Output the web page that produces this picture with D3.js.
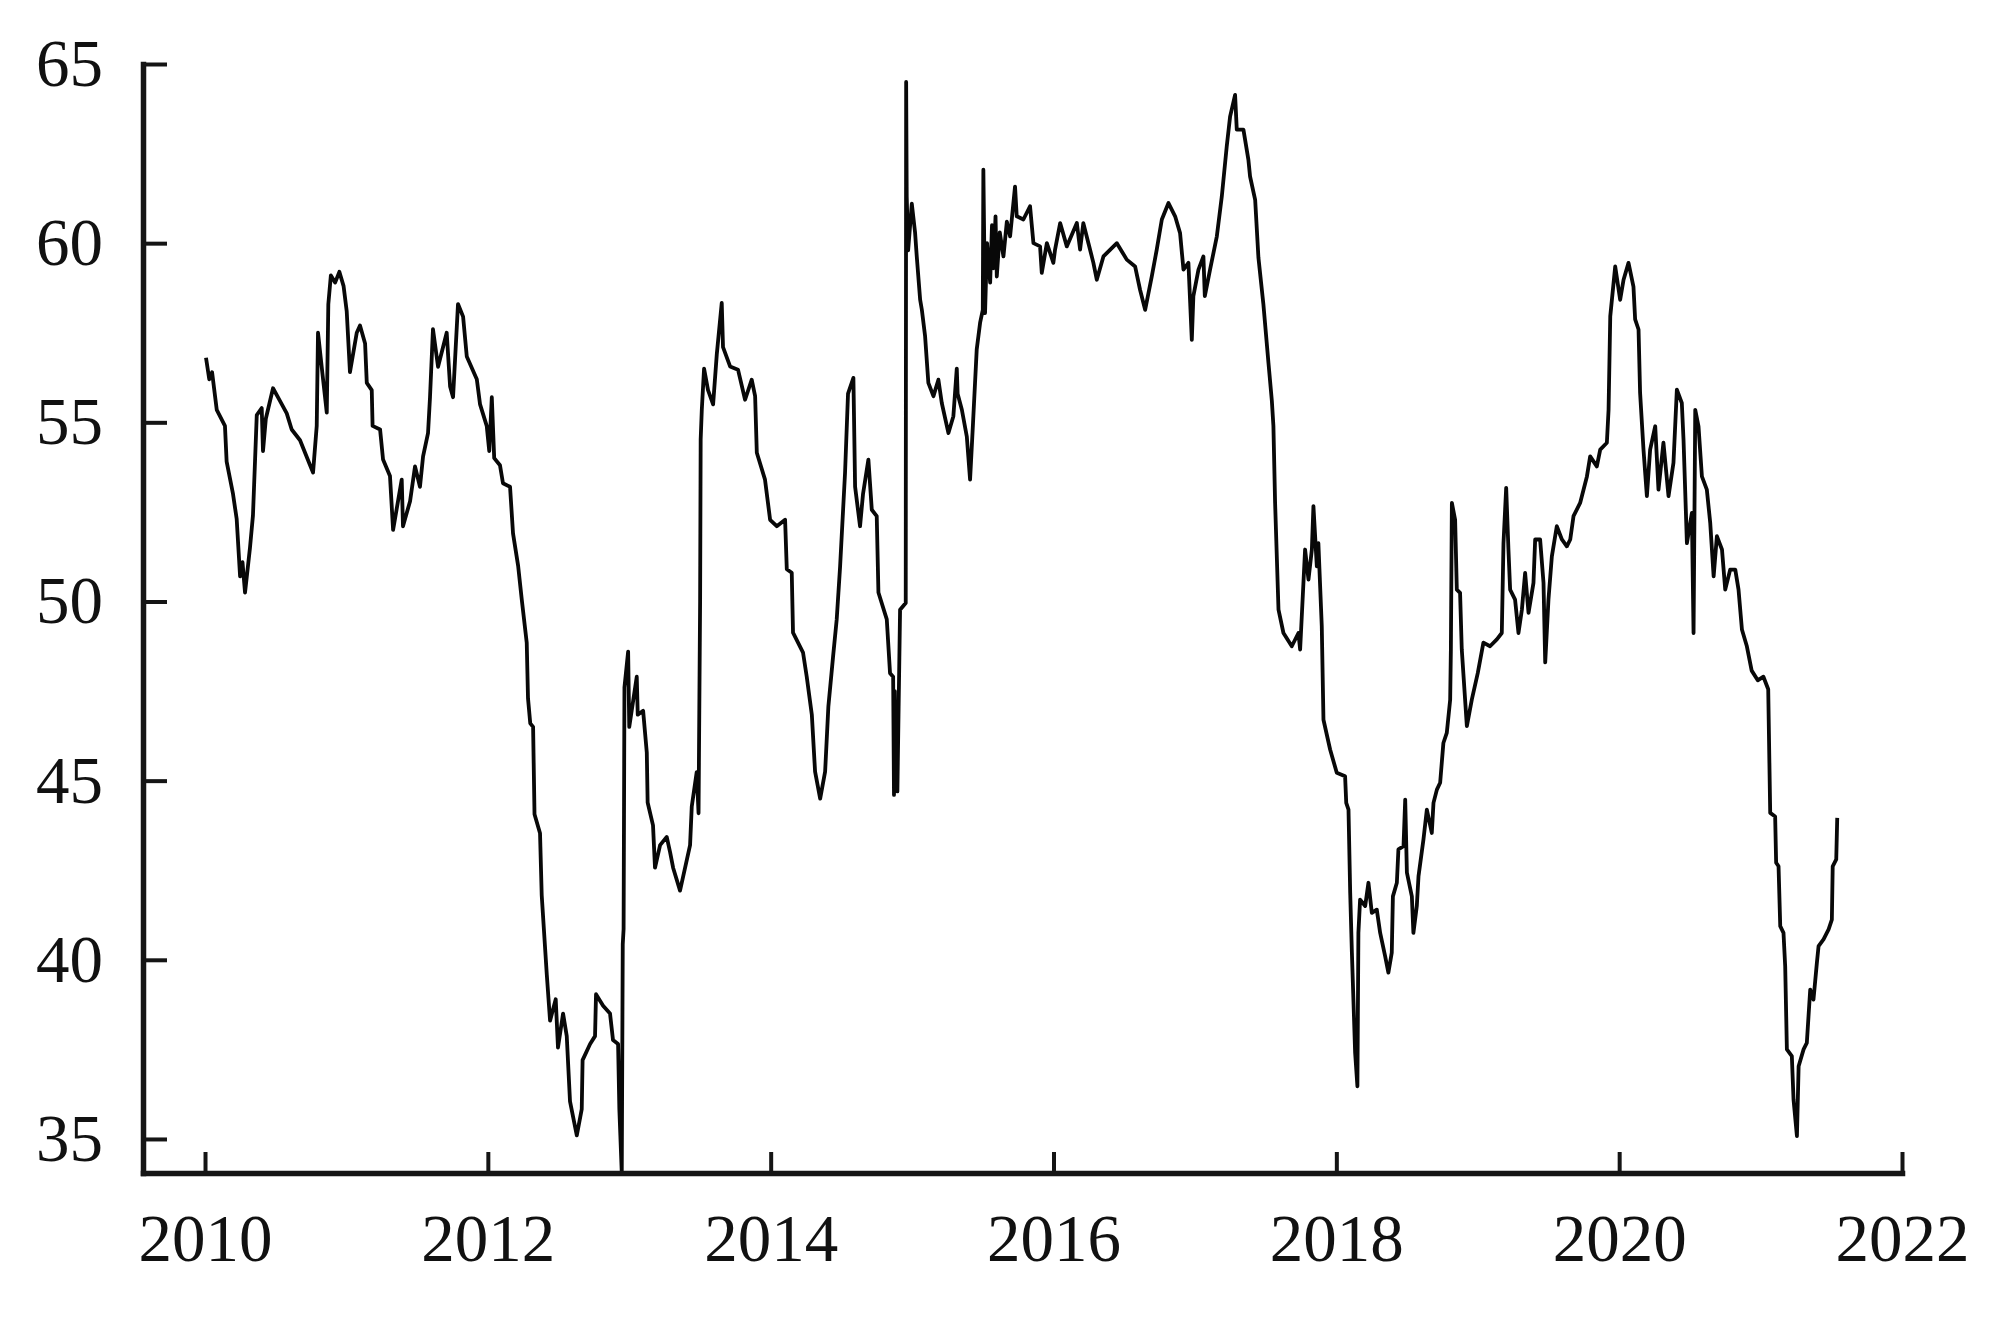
<!DOCTYPE html>
<html>
<head>
<meta charset="utf-8">
<script src="https://cdn.jsdelivr.net/npm/d3@7"></script>
<style>
  html, body { margin: 0; padding: 0; background: #fff; }
  .axis text { font-family: "Liberation Serif", "DejaVu Serif", serif; font-size: 67px; fill: #111; }
</style>
</head>
<body>
<div class="vis-line"></div>
<script>
// decimal years
const years = [
  2010.007, 2010.03, 2010.05, 2010.083, 2010.141, 2010.153, 2010.198, 2010.224, 2010.248, 2010.265,
  2010.283, 2010.318, 2010.339, 2010.366, 2010.401, 2010.41, 2010.43, 2010.481, 2010.53, 2010.578,
  2010.613, 2010.672, 2010.743, 2010.764, 2010.79, 2010.799, 2010.825, 2010.861, 2010.872, 2010.89,
  2010.92, 2010.95, 2010.98, 2011.002, 2011.025, 2011.073, 2011.096, 2011.132, 2011.144, 2011.179,
  2011.185, 2011.238, 2011.259, 2011.308, 2011.33, 2011.391, 2011.4, 2011.45, 2011.485, 2011.52,
  2011.542, 2011.577, 2011.591, 2011.612, 2011.648, 2011.709, 2011.733, 2011.754, 2011.789, 2011.825,
  2011.851, 2011.922, 2011.945, 2011.992, 2012.01, 2012.028, 2012.045, 2012.086, 2012.107, 2012.157,
  2012.178, 2012.214, 2012.24, 2012.275, 2012.284, 2012.3, 2012.32, 2012.33, 2012.369, 2012.381,
  2012.417, 2012.44, 2012.48, 2012.496, 2012.532, 2012.558, 2012.581, 2012.629, 2012.664, 2012.67,
  2012.723, 2012.758, 2012.765, 2012.815, 2012.864, 2012.885, 2012.921, 2012.93, 2012.947, 2012.954,
  2012.96, 2012.966, 2012.992, 2013.0, 2013.053, 2013.06, 2013.098, 2013.124, 2013.13, 2013.168,
  2013.182, 2013.218, 2013.265, 2013.289, 2013.31, 2013.359, 2013.395, 2013.43, 2013.442, 2013.477,
  2013.49, 2013.501, 2013.505, 2013.513, 2013.529, 2013.557, 2013.593, 2013.619, 2013.654, 2013.663,
  2013.713, 2013.769, 2013.819, 2013.866, 2013.89, 2013.902, 2013.96, 2013.996, 2014.043, 2014.102,
  2014.114, 2014.149, 2014.158, 2014.229, 2014.255, 2014.291, 2014.314, 2014.35, 2014.385, 2014.408,
  2014.441, 2014.467, 2014.491, 2014.526, 2014.547, 2014.585, 2014.597, 2014.632, 2014.653, 2014.691,
  2014.715, 2014.75, 2014.762, 2014.821, 2014.844, 2014.866, 2014.872, 2014.878, 2014.884, 2014.89,
  2014.896, 2014.915, 2014.955, 2014.958, 2014.962, 2014.972, 2014.998, 2015.021, 2015.033, 2015.057,
  2015.069, 2015.092, 2015.115, 2015.151, 2015.186, 2015.21, 2015.257, 2015.292, 2015.316, 2015.322,
  2015.352, 2015.387, 2015.41, 2015.431, 2015.457, 2015.481, 2015.5, 2015.504, 2015.516, 2015.53,
  2015.552, 2015.565, 2015.575, 2015.59, 2015.599, 2015.62, 2015.646, 2015.67, 2015.693, 2015.728,
  2015.74, 2015.787, 2015.834, 2015.858, 2015.905, 2015.917, 2015.953, 2015.999, 2016.011, 2016.047,
  2016.094, 2016.165, 2016.188, 2016.211, 2016.247, 2016.282, 2016.306, 2016.353, 2016.448, 2016.518,
  2016.577, 2016.612, 2016.648, 2016.695, 2016.73, 2016.766, 2016.813, 2016.86, 2016.895, 2016.919,
  2016.954, 2016.978, 2016.989, 2017.025, 2017.06, 2017.07, 2017.107, 2017.155, 2017.19, 2017.225,
  2017.249, 2017.284, 2017.296, 2017.343, 2017.378, 2017.39, 2017.426, 2017.449, 2017.484, 2017.52,
  2017.544, 2017.555, 2017.567, 2017.591, 2017.626, 2017.685, 2017.732, 2017.744, 2017.779, 2017.803,
  2017.827, 2017.838, 2017.862, 2017.873, 2017.897, 2017.909, 2017.956, 2018.003, 2018.062, 2018.07,
  2018.086, 2018.098, 2018.11, 2018.133, 2018.149, 2018.156, 2018.168, 2018.204, 2018.227, 2018.251,
  2018.286, 2018.31, 2018.345, 2018.368, 2018.392, 2018.4, 2018.428, 2018.439, 2018.475, 2018.487,
  2018.499, 2018.534, 2018.545, 2018.569, 2018.581, 2018.616, 2018.64, 2018.675, 2018.687, 2018.711,
  2018.734, 2018.757, 2018.781, 2018.805, 2018.81, 2018.817, 2018.84, 2018.852, 2018.875, 2018.887,
  2018.923, 2018.958, 2019.0, 2019.04, 2019.087, 2019.135, 2019.17, 2019.182, 2019.201, 2019.217,
  2019.229, 2019.264, 2019.288, 2019.312, 2019.335, 2019.359, 2019.394, 2019.406, 2019.441, 2019.465,
  2019.477, 2019.5, 2019.524, 2019.559, 2019.595, 2019.63, 2019.654, 2019.677, 2019.724, 2019.772,
  2019.795, 2019.842, 2019.866, 2019.913, 2019.925, 2019.937, 2019.972, 2020.007, 2020.031, 2020.066,
  2020.101, 2020.113, 2020.137, 2020.148, 2020.172, 2020.196, 2020.219, 2020.255, 2020.278, 2020.313,
  2020.349, 2020.384, 2020.408, 2020.443, 2020.455, 2020.479, 2020.514, 2020.526, 2020.538, 2020.561,
  2020.585, 2020.62, 2020.644, 2020.668, 2020.691, 2020.727, 2020.75, 2020.785, 2020.821, 2020.844,
  2020.868, 2020.903, 2020.937, 2020.98, 2021.02, 2021.054, 2021.068, 2021.103, 2021.11, 2021.127,
  2021.139, 2021.162, 2021.174, 2021.186, 2021.221, 2021.233, 2021.257, 2021.269, 2021.304, 2021.327,
  2021.339, 2021.351, 2021.374, 2021.398, 2021.41, 2021.445, 2021.481, 2021.504, 2021.51, 2021.535,
  2021.542
];

const values = [
  56.8, 56.2, 56.4, 55.35, 54.9, 53.9, 53.0, 52.3, 50.7, 51.1,
  50.25, 51.5, 52.4, 55.2, 55.4, 54.2, 55.1, 55.95, 55.6, 55.25,
  54.8, 54.5, 53.8, 53.6, 54.9, 57.5, 56.55, 55.27, 58.3, 59.1,
  58.9, 59.2, 58.8, 58.1, 56.4, 57.5, 57.7, 57.2, 56.1, 55.9,
  54.9, 54.8, 53.96, 53.5, 52.0, 53.4, 52.1, 52.8, 53.77, 53.2,
  54.05, 54.7, 55.7, 57.6, 56.55, 57.5, 56.0, 55.7, 58.3, 57.95,
  56.84, 56.2, 55.5, 54.9, 54.2, 55.7, 54.0, 53.8, 53.3, 53.2,
  51.9, 51.0, 50.05, 48.85, 47.3, 46.6, 46.5, 44.06, 43.53, 41.8,
  39.58, 38.3, 38.9, 37.55, 38.5, 37.87, 36.05, 35.1, 35.83, 37.2,
  37.65, 37.87, 39.04, 38.72, 38.5, 37.76, 37.65, 35.83, 34.05, 40.43,
  40.86, 47.6, 48.6, 46.5, 47.9, 46.84, 46.95, 45.78, 44.39, 43.75,
  42.57, 43.2, 43.43, 43.0, 42.57, 41.93, 42.57, 43.2, 44.28, 45.24,
  44.09, 50.0, 54.52, 55.35, 56.5, 55.9, 55.5, 56.9, 58.33, 57.1,
  56.56, 56.47, 55.63, 56.19, 55.73, 54.15, 53.4, 52.28, 52.1, 52.28,
  50.9, 50.8, 49.13, 48.57, 47.9, 46.84, 45.25, 44.5, 45.25, 47.07,
  48.45, 49.5, 50.98, 53.6, 55.8, 56.24, 53.2, 52.1, 53.0, 53.96,
  52.56, 52.38, 50.25, 49.5, 48.0, 47.9, 44.6, 47.5, 44.8, 47.0,
  44.7, 49.77, 49.96, 64.5, 61.3, 59.8, 61.1, 60.3, 59.63, 58.42,
  58.14, 57.4, 56.1, 55.73, 56.19, 55.54, 54.7, 55.17, 56.5, 55.8,
  55.35, 54.6, 53.4, 54.99, 57.03, 57.78, 58.14, 62.05, 58.05, 60.0,
  58.9, 60.5, 59.3, 60.75, 59.07, 60.3, 59.63, 60.6, 60.19, 61.58,
  60.75, 60.66, 61.03, 60.0, 59.91, 59.17, 60.0, 59.45, 59.82, 60.56,
  59.91, 60.56, 59.82, 60.56, 60.0, 59.45, 58.98, 59.63, 60.0, 59.54,
  59.35, 58.7, 58.14, 59.07, 59.82, 60.66, 61.12, 60.75, 60.28, 59.26,
  59.45, 57.3, 58.52, 59.26, 59.63, 58.52, 59.26, 60.19, 61.3, 62.7,
  63.54, 64.14, 63.17, 63.17, 62.33, 61.86, 61.21, 59.6, 58.3, 56.66,
  55.6, 54.9, 52.75, 49.77, 49.12, 48.75, 49.12, 48.66, 51.45, 50.61,
  51.45, 52.66, 50.98, 51.63, 49.31, 46.7, 45.87, 45.22, 45.12, 44.38,
  44.19, 41.87, 40.2, 37.4, 36.47, 40.75, 41.68, 41.5, 42.15, 41.31,
  41.4, 40.75, 40.1, 39.64, 40.2, 41.77, 42.15, 43.08, 43.17, 44.47,
  42.43, 41.77, 40.75, 41.5, 42.33, 43.36, 44.19, 43.54, 44.38, 44.75,
  44.94, 46.05, 46.33, 47.26, 48.66, 52.75, 52.28, 50.33, 50.24, 48.66,
  46.52, 47.26, 48.0, 48.85, 48.75, 48.94, 49.12, 51.63, 53.17, 51.45,
  50.33, 50.05, 49.12, 49.77, 50.8, 49.68, 50.52, 51.73, 51.73, 50.52,
  48.3, 50.05, 51.26, 52.1, 51.73, 51.54, 51.73, 52.38, 52.75, 53.49,
  54.05, 53.77, 54.24, 54.43, 55.35, 57.96, 59.35, 58.42, 58.98, 59.45,
  58.79, 57.87, 57.59, 55.82, 54.24, 52.94, 54.24, 54.89, 53.12, 54.43,
  52.94, 53.87, 55.91, 55.54, 54.52, 51.63, 52.47, 49.12, 55.35, 54.89,
  53.49, 53.12, 52.19, 50.7, 51.82, 51.45, 50.33, 50.89, 50.89, 50.33,
  49.22, 48.75, 48.07, 47.8, 47.9, 47.55, 44.1, 44.0, 42.71, 42.61,
  40.94, 40.75, 39.82, 37.5, 37.31, 36.1, 35.08, 37.03, 37.5, 37.68,
  38.43, 39.17, 38.89, 39.91, 40.38, 40.57, 40.85, 41.12, 42.61, 42.8,
  43.96
];

const xTicks = [2010, 2012, 2014, 2016, 2018, 2020, 2022];
const yTicks = [35, 40, 45, 50, 55, 60, 65];

const W = 2012, H = 1317;
const margin = {top: 64, right: 110, bottom: 144, left: 143};

const data = d3.zip(years, values).map(function(d) { return {year: d[0], value: d[1]}; });

const svg = d3.select('.vis-line').append('svg')
    .attr('width', W)
    .attr('height', H);

var x = d3.scaleLinear()
    .domain([2009.5615, 2022])
    .range([margin.left, W - margin.right]);

var y = d3.scaleLinear()
    .domain([34.05, 65])
    .range([H - margin.bottom, margin.top]);

// the series
svg.append('path')
    .datum(data)
    .attr('fill', 'none')
    .attr('stroke', '#080808')
    .attr('stroke-width', 3.8)
    .attr('stroke-linejoin', 'round')
    .attr('d', d3.line()
        .x(function(d) { return x(d.year); })
        .y(function(d) { return y(d.value); }));

// axes, ticks point inward
var xAxis = svg.append('g')
    .attr('class', 'axis')
    .attr('transform', 'translate(0,' + (H - margin.bottom) + ')')
    .call(d3.axisBottom(x)
        .tickValues(xTicks)
        .tickFormat(d3.format('d'))
        .tickSizeInner(-21)
        .tickSizeOuter(0)
        .tickPadding(40));

var yAxis = svg.append('g')
    .attr('class', 'axis')
    .attr('transform', 'translate(' + margin.left + ',0)')
    .call(d3.axisLeft(y)
        .tickValues(yTicks)
        .tickSizeInner(-24)
        .tickSizeOuter(0)
        .tickPadding(40));

svg.selectAll('.axis .domain')
    .attr('stroke', '#151515')
    .attr('stroke-width', 5.5)
    .attr('stroke-linecap', 'square');

svg.selectAll('.axis .tick line')
    .attr('stroke', '#151515')
    .attr('stroke-width', 4);
</script>
</body>
</html>
